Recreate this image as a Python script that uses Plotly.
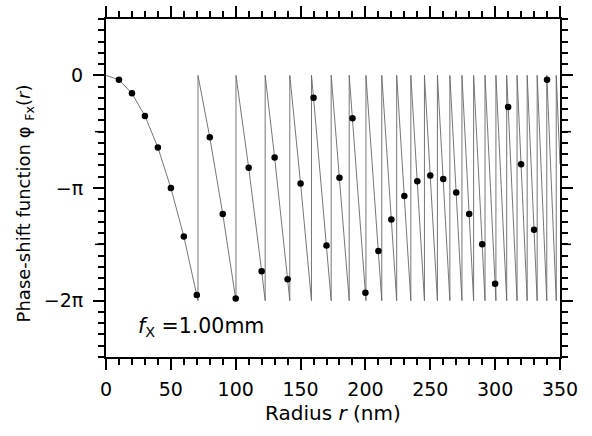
import numpy as np
import plotly.graph_objects as go

# ---- data (phase in units of pi) ----
radius_dots = [10, 20, 30, 40, 50, 60, 70, 80, 90, 100, 110, 120, 130, 140, 150, 160, 170,
               180, 190, 200, 210, 220, 230, 240, 250, 260, 270, 280, 290, 300, 310, 320, 330, 340]
phase_dots_pi = [-0.04, -0.16, -0.36, -0.64, -1.00, -1.43, -1.95, -0.55, -1.23, -1.98, -0.82,
                 -1.74, -0.73, -1.81, -0.96, -0.20, -1.51, -0.91, -0.38, -1.93, -1.56, -1.28,
                 -1.07, -0.94, -0.89, -0.92, -1.04, -1.23, -1.50, -1.85, -0.28, -0.79, -1.37, -0.04]
# radii where the phase wraps from -2pi back to 0
wrap_radius = [70.9, 100.2, 122.7, 141.7, 158.4, 173.6, 187.5, 200.4, 212.6, 224.1, 235.0,
               245.5, 255.5, 265.1, 274.4, 283.4, 292.2, 300.6, 308.9, 316.9, 324.7, 332.4,
               339.8, 347.1]
curve_start = (0.0, 0.0)
curve_end = (350.0, -0.79)
wrap_low_pi, wrap_high_pi = -2.0, 0.0

x_ticks = [0, 50, 100, 150, 200, 250, 300, 350]
y_tick_pi = [0.0, -1.0, -2.0]
y_tick_text = ["0", "\u2212\u03c0", "\u22122\u03c0"]
y_half_tick_pi = [-0.5, -1.5]

# ---- build the wrapped curve from the read points ----
pts = [(curve_start[0], 1, curve_start[1])]
pts += [(r, 1, p) for r, p in zip(radius_dots, phase_dots_pi)]
pts += [(curve_end[0], 1, curve_end[1])]
for w in wrap_radius:
    pts.append((w, 0, wrap_low_pi))
    pts.append((w, 2, wrap_high_pi))
pts.sort(key=lambda t: (t[0], t[1]))
line_x = [t[0] for t in pts]
line_y = [t[2] * np.pi for t in pts]

PI = np.pi
FONT = "DejaVu Sans"
PLOT_W = 592 - 106 - 32

fig = go.Figure()
fig.add_trace(go.Scatter(x=line_x, y=line_y, mode="lines",
                         line=dict(color="#666666", width=0.9),
                         hoverinfo="skip", showlegend=False))
fig.add_trace(go.Scatter(x=radius_dots, y=[p * PI for p in phase_dots_pi], mode="markers",
                         marker=dict(color="black", size=6.5),
                         showlegend=False))

axis_common = dict(showline=True, linecolor="black", linewidth=2, mirror="allticks",
                   ticks="outside", ticklen=11, tickwidth=1.5, tickcolor="black",
                   showgrid=False, zeroline=False, automargin=False,
                   tickfont=dict(family=FONT, size=19, color="black"))

fig.update_xaxes(range=[0, 350], tickvals=x_ticks, ticklabelstandoff=3,
                 minor=dict(dtick=10, tick0=0, ticks="outside", ticklen=6, tickwidth=1.5,
                            tickcolor="black", showgrid=False),
                 **axis_common)
fig.update_yaxes(range=[-2.5 * PI, 0.5 * PI], tickvals=[v * PI for v in y_tick_pi],
                 ticktext=y_tick_text, ticklabelstandoff=6,
                 minor=dict(dtick=0.1 * PI, tick0=0, ticks="outside", ticklen=6,
                            tickwidth=1.5, tickcolor="black", showgrid=False),
                 **axis_common)

# medium ticks at odd multiples of pi/2 (left and right sides)
for v in y_half_tick_pi:
    for x0, x1 in [(-11 / PLOT_W, 0), (1, 1 + 11 / PLOT_W)]:
        fig.add_shape(type="line", xref="paper", yref="y", x0=x0, x1=x1,
                      y0=v * PI, y1=v * PI, line=dict(color="black", width=1.5))

fig.add_annotation(text="<i>f</i><sub>X</sub> =1.00mm", x=23, y=-2.23 * PI,
                   xref="x", yref="y", xanchor="left", yanchor="middle", showarrow=False,
                   font=dict(family=FONT, size=20.5, color="black"))
fig.add_annotation(text="Radius <i>r</i> (nm)", x=0.5, y=-0.166, xref="paper", yref="paper",
                   xanchor="center", yanchor="middle", showarrow=False,
                   font=dict(family=FONT, size=20, color="black"))
fig.add_annotation(text="Phase-shift function \u03c6 <sub>Fx</sub>(<i>r</i>)", x=-0.178, y=0.455,
                   xref="paper", yref="paper", xanchor="center", yanchor="middle",
                   textangle=-90, showarrow=False,
                   font=dict(family=FONT, size=18, color="black"))

fig.update_layout(width=592, height=436, margin=dict(l=106, r=32, t=19, b=79, autoexpand=False),
                  paper_bgcolor="white", plot_bgcolor="white")

fig.write_html("out.html", config={"displayModeBar": False},
               post_script="document.body.style.margin='0px';document.body.style.overflow='hidden';")
